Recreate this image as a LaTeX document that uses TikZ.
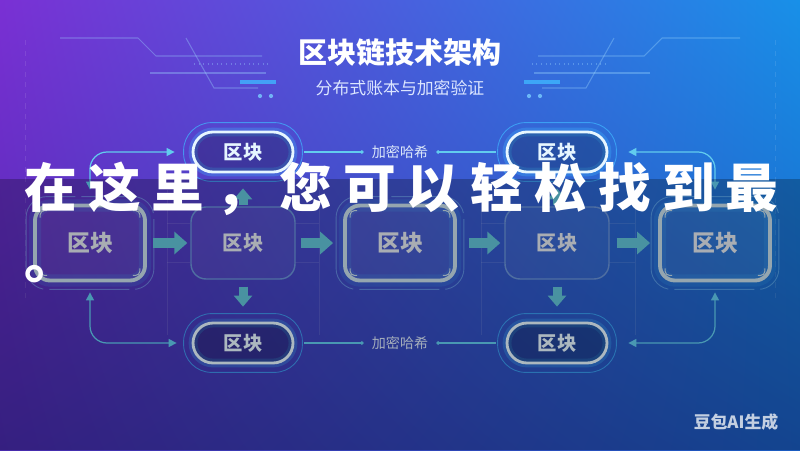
\documentclass[tikz,border=0pt]{standalone}
\usepackage{fontspec}
\setmainfont{Noto Sans CJK SC}
\newfontfamily\bannerfont{Noto Sans CJK SC}[LetterSpace=21]
\usetikzlibrary{arrows.meta, positioning, calc, shadings}
\definecolor{BgPurpleTop}{RGB}{122, 48, 212}
\definecolor{BgBlueTop}{RGB}{24, 144, 232}
\definecolor{BgPurpleLow}{RGB}{72, 42, 172}
\definecolor{BgBlueLow}{RGB}{26, 92, 192}
\definecolor{PillEdge}{HTML}{E6F6FF}
\definecolor{GlowCyan}{HTML}{3FB6FF}
\definecolor{BoxEdge}{HTML}{C8DEEA}
\definecolor{SoftEdge}{HTML}{6A94D8}
\definecolor{BlockTeal}{HTML}{62C4D8}
\definecolor{LinkCyan}{HTML}{62CCEE}
\definecolor{LabelGray}{HTML}{E2E8F0}
\definecolor{HashText}{HTML}{DCE8FA}
\definecolor{SubText}{HTML}{DCE6FF}

\newcommand{\cornerticks}[1]{%
  \draw[tick] ($(#1.north west)+(7,14)$) -- ++(0,-7) -- ++(7,0);
  \draw[tick] ($(#1.north east)+(-7,14)$) -- ++(0,-7) -- ++(-7,0);
  \draw[tick] ($(#1.south west)+(7,-14)$) -- ++(0,7) -- ++(7,0);
  \draw[tick] ($(#1.south east)+(-7,-14)$) -- ++(0,7) -- ++(-7,0);}

\tikzset{
  pill/.style={draw=PillEdge, line width=1.6pt, rounded corners=0.4cm,
    minimum width=2cm, minimum height=0.8cm, fill=black, fill opacity=0.22, text opacity=1,
    preaction={draw=GlowCyan, line width=5pt, opacity=0.3},
    font=\bfseries\fontsize{11}{13}\selectfont, text=PillEdge},
  mainbox/.style={draw=BoxEdge, line width=2.2pt, rounded corners=0.3cm,
    minimum width=2.2cm, minimum height=1.5cm, fill=white, fill opacity=0.06, text opacity=1,
    preaction={draw=GlowCyan, line width=7pt, opacity=0.16},
    font=\bfseries\fontsize{13}{15}\selectfont, text=LabelGray},
  softbox/.style={draw=SoftEdge, line width=0.8pt, rounded corners=0.3cm,
    minimum width=2.08cm, minimum height=1.44cm, fill=white, fill opacity=0.05, text opacity=1,
    font=\bfseries\fontsize{11.5}{13}\selectfont, text=LabelGray},
  blockarrow/.style={draw=BlockTeal, line width=0.2cm, -{Triangle[length=0.26cm, width=0.44cm]}},
  vblockarrow/.style={draw=BlockTeal, line width=0.18cm, -{Triangle[length=0.22cm, width=0.36cm]}},
  thinlink/.style={draw=LinkCyan, line width=0.7pt, rounded corners=0.34cm,
    {Triangle[length=0.16cm, width=0.16cm]}-{Triangle[length=0.16cm, width=0.16cm]}},
  hashlink/.style={draw=LinkCyan, line width=0.7pt},
  hashtext/.style={font=\fontsize{8}{10}\selectfont, text=HashText, inner sep=0.1cm},
  ring/.style={draw=GlowCyan, line width=0.5pt, opacity=0.7, rounded corners=0.56cm},
  boxring/.style={draw=GlowCyan!60!white, line width=0.5pt, opacity=0.45,
    dash pattern=on 1.6cm off 0.12cm, rounded corners=0.42cm},
  tick/.style={draw=BoxEdge, line width=0.6pt, rounded corners=2.5pt},
  gridline/.style={draw=white, opacity=0.1, line width=0.4pt},
  circuit/.style={draw=GlowCyan!50!white, line width=0.6pt, opacity=0.35}
}

\begin{document}
\begin{tikzpicture}[x=0.02cm, y=-0.02cm]
  % Background and page size
  \useasboundingbox (0,0) rectangle (800,450);
  \shade[upper left=BgPurpleTop, upper right=BgBlueTop, lower left=BgPurpleLow, lower right=BgBlueLow]
    (0,0) rectangle (800,450);

  % Header circuit lines
  \foreach \flip/\dx in {1/0, -1/800} {
    \begin{scope}[shift={(\dx,0)}, xscale=\flip]
      \draw[circuit] (60,38) -- (138,38) -- (156,56) -- (262,56);
      \draw[circuit] (150,73) -- (266,73);
      \draw[circuit] (186,38) -- (214,88) -- (258,88);
      \draw[circuit, dotted, line width=1pt] (194,64) -- (268,64);
      \draw[draw=GlowCyan, line width=2pt, opacity=0.8] (240,82) -- (276,82);
      \fill[GlowCyan!70!white, opacity=0.8] (260,96) circle (1.2pt) (271,96) circle (1.2pt);
    \end{scope}
  }

  % Title
  \node[font=\bfseries\fontsize{16.5}{18}\selectfont, text=white] (title) at (400,52) {区块链技术架构};
  \node[font=\fontsize{9.6}{11}\selectfont, text=SubText] (subtitle) at (400,88) {分布式账本与加密验证};

  % Faint grid behind the middle row
  \draw[gridline, dashed] (25,40) -- (25,300);
  \draw[gridline, dashed] (775,40) -- (775,300);
  \draw[gridline] (167,190) -- (167,335);
  \draw[gridline] (319,190) -- (319,335);
  \draw[gridline] (481,190) -- (481,335);
  \draw[gridline] (635,190) -- (635,335);
  \draw[gridline] (167,223) -- (190,223) (295,223) -- (319,223);
  \draw[gridline] (167,262) -- (190,262) (295,262) -- (319,262);
  \draw[gridline] (481,223) -- (506,223) (609,223) -- (635,223);
  \draw[gridline] (481,262) -- (506,262) (609,262) -- (635,262);

  % Pills
  \node[pill] (ptl) at (243,152) {区块};
  \node[pill] (ptr) at (557,152) {区块};
  \node[pill] (pbl) at (243,343) {区块};
  \node[pill] (pbr) at (557,343) {区块};
  \draw[ring] ($(ptl.north west)+(-8,-8)$) rectangle ($(ptl.south east)+(8,8)$);
  \draw[ring] ($(ptr.north west)+(-8,-8)$) rectangle ($(ptr.south east)+(8,8)$);
  \draw[ring] ($(pbl.north west)+(-8,-8)$) rectangle ($(pbl.south east)+(8,8)$);
  \draw[ring] ($(pbr.north west)+(-8,-8)$) rectangle ($(pbr.south east)+(8,8)$);

  % Middle row of blocks
  \node[mainbox] (b1) at (90,243) {区块};
  \node[softbox] (b2) at (243,243) {区块};
  \node[mainbox] (b3) at (400,243) {区块};
  \node[softbox] (b4) at (557,243) {区块};
  \node[mainbox] (b5) at (715,243) {区块};
  \draw[boxring] ($(b1.north west)+(-7,-7)$) rectangle ($(b1.south east)+(7,7)$);
  \draw[boxring] ($(b3.north west)+(-7,-7)$) rectangle ($(b3.south east)+(7,7)$);
  \draw[boxring] ($(b5.north west)+(-7,-7)$) rectangle ($(b5.south east)+(7,7)$);
  \cornerticks{b1}
  \cornerticks{b3}
  \cornerticks{b5}

  % Chain arrows
  \draw[blockarrow, shorten <=0.12cm, shorten >=0.06cm] (b1.east) -- (b2.west);
  \draw[blockarrow, shorten <=0.1cm, shorten >=0.2cm] (b2.east) -- (b3.west);
  \draw[blockarrow, shorten <=0.24cm, shorten >=0.08cm] (b3.east) -- (b4.west);
  \draw[blockarrow, shorten <=0.14cm, shorten >=0.16cm] (b4.east) -- (b5.west);
  \draw[vblockarrow, shorten <=0.02cm, shorten >=0.3cm] (b2.north) -- (ptl.south);
  \draw[vblockarrow, shorten <=0.02cm, shorten >=0.3cm] (b4.north) -- (ptr.south);
  \draw[vblockarrow, shorten <=0.14cm, shorten >=0.3cm] (b2.south) -- (pbl.north);
  \draw[vblockarrow, shorten <=0.14cm, shorten >=0.3cm] (b4.south) -- (pbr.north);

  % Side links
  \draw[thinlink, shorten <=0.28cm, shorten >=0.34cm] (b1.north) |- (ptl.west);
  \draw[thinlink, shorten <=0.2cm, shorten >=0.3cm] (b1.south) |- (pbl.west);
  \draw[thinlink, shorten <=0.28cm, shorten >=0.4cm] (b5.north) |- (ptr.east);
  \draw[thinlink, shorten <=0.2cm, shorten >=0.4cm] (b5.south) |- (pbr.east);

  % Hash labels
  \node[hashtext] (htop) at (400,152) {加密哈希};
  \node[hashtext] (hbot) at (400,343) {加密哈希};
  \draw[hashlink, -{Circle[length=0.07cm]}, shorten <=0.2cm, shorten >=0.06cm] (ptl.east) -- (htop.west);
  \draw[hashlink, {Circle[length=0.07cm]}-, shorten <=0.06cm, shorten >=0.2cm] (htop.east) -- (ptr.west);
  \draw[hashlink, -{Circle[length=0.07cm]}, shorten <=0.2cm, shorten >=0.06cm] (pbl.east) -- (hbot.west);
  \draw[hashlink, {Circle[length=0.07cm]}-, shorten <=0.06cm, shorten >=0.2cm] (hbot.east) -- (pbr.west);

  % Caption band over the lower part
  \fill[black, opacity=0.25] (0,179) rectangle (800,450);
  \begin{scope}
    \clip (0,0) rectangle (800,450);
    \node[anchor=north west, align=left, inner sep=0pt, text=white,
      font=\bannerfont\bfseries\fontsize{30}{40}\selectfont] (slogan) at (24,162)
      {在这里，您可以轻松找到最\\。};
  \end{scope}

  % Watermark
  \node[font=\bfseries\fontsize{9.6}{11}\selectfont, text=LabelGray, opacity=0.85] (mark) at (736,422) {豆包AI生成};
\end{tikzpicture}
\end{document}
